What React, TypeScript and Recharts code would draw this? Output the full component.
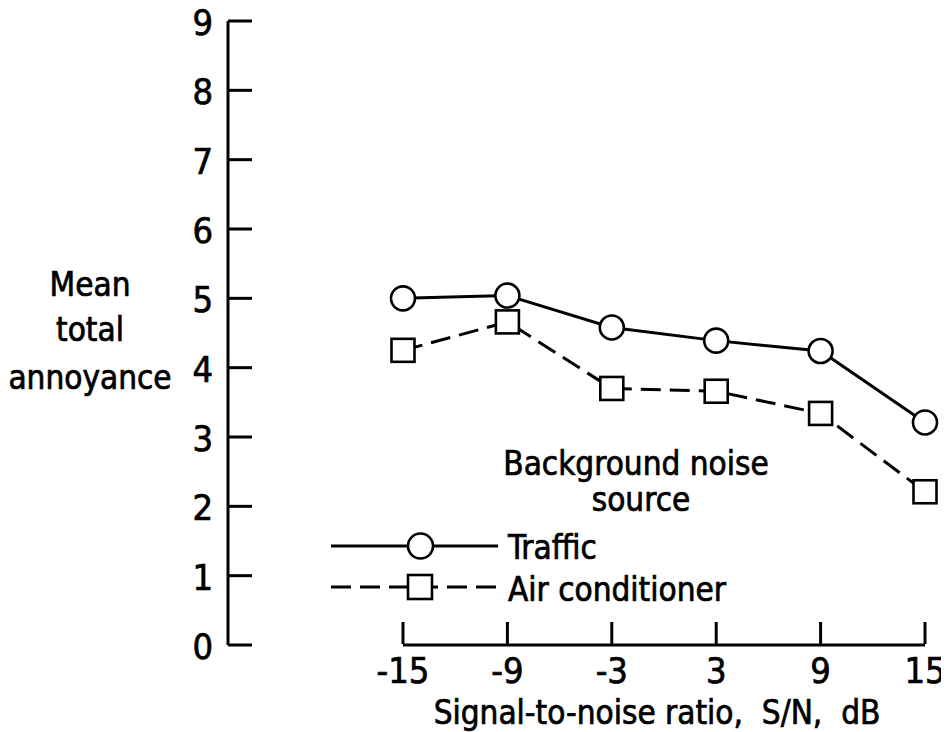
import React from 'react';
import { LineChart, Line, XAxis, YAxis, ReferenceLine, Legend } from 'recharts';

// Signal-to-noise ratio levels (dB)
const snrLevels = [-15, -9, -3, 3, 9, 15];
// Mean total annoyance per background noise source
const trafficAnnoyance = [5.0, 5.04, 4.58, 4.39, 4.24, 3.21];
const airConditionerAnnoyance = [4.25, 4.66, 3.7, 3.66, 3.34, 2.21];
// Axis ticks
const yTicks = [0, 1, 2, 3, 4, 5, 6, 7, 8, 9];
const xTicks = [-15, -9, -3, 3, 9, 15];

const seriesNames = { traffic: 'Traffic', air: 'Air conditioner' };

const data = snrLevels.map((snr, i) => ({
  snr,
  traffic: trafficAnnoyance[i],
  air: airConditionerAnnoyance[i],
}));

const FONT = "'DejaVu Sans Condensed', 'DejaVu Sans', sans-serif";
const INK = '#000';
const DASH = '20 9';

// lettering is drawn slightly heavier than the regular face
const textStyle: React.CSSProperties = {
  fontFamily: FONT,
  fontStretch: 'condensed',
  fill: INK,
  stroke: INK,
  strokeWidth: 0.7,
};

const CircleDot = (props: any) => {
  const { cx, cy, index } = props;
  if (cx == null || cy == null) return null;
  return <circle key={`c-${index}`} cx={cx} cy={cy} r={12} fill="#fff" stroke={INK} strokeWidth={2.6} />;
};

const SquareDot = (props: any) => {
  const { cx, cy, index } = props;
  if (cx == null || cy == null) return null;
  return (
    <rect key={`s-${index}`} x={cx - 11.5} y={cy - 11.5} width={23} height={23} fill="#fff" stroke={INK} strokeWidth={2.6} />
  );
};

const YTick = (props: any) => {
  const { x, y, payload } = props;
  return (
    <g>
      <line x1={x} y1={y} x2={x + 24} y2={y} stroke={INK} strokeWidth={3} />
      <text x={x - 15} y={y + 14} textAnchor="end" fontSize={36} style={textStyle}>
        {payload.value}
      </text>
    </g>
  );
};

const XTick = (props: any) => {
  const { x, y, payload } = props;
  return (
    <g>
      <line x1={x} y1={y - 1} x2={x} y2={y - 23} stroke={INK} strokeWidth={3} />
      <text x={x} y={y + 38} textAnchor="middle" fontSize={36} style={textStyle}>
        {payload.value}
      </text>
    </g>
  );
};

const YTitle = (props: any) => {
  const vb = props.viewBox || { x: 0, y: 13 };
  const cx = vb.x + 82;
  const lines = ['Mean', 'total', 'annoyance'];
  const offsets = [275, 320, 368];
  return (
    <g>
      {lines.map((t, i) => (
        <text key={t} x={cx} y={vb.y + offsets[i]} textAnchor="middle" fontSize={33} style={textStyle}>
          {t}
        </text>
      ))}
    </g>
  );
};

const XTitle = (props: any) => {
  const vb = props.viewBox || { x: 220, y: 637 };
  return (
    <text
      x={vb.x + 429}
      y={vb.y + 79}
      textAnchor="middle"
      fontSize={33}
      style={{ ...textStyle, whiteSpace: 'pre' }}
    >
      {'Signal-to-noise ratio,  S/N,  dB'}
    </text>
  );
};

const LegendBox = () => (
  <svg width={450} height={190} style={{ overflow: 'visible', display: 'block' }}>
    <text x={316} y={45} textAnchor="middle" fontSize={33} style={textStyle}>
      Background noise
    </text>
    <text x={321} y={81} textAnchor="middle" fontSize={33} style={textStyle}>
      source
    </text>
    <line x1={11} y1={116} x2={178} y2={116} stroke={INK} strokeWidth={3} />
    <circle cx={100.5} cy={116} r={12.5} fill="#fff" stroke={INK} strokeWidth={2.6} />
    <text x={188} y={129} fontSize={33} style={textStyle}>
      {seriesNames.traffic}
    </text>
    <line x1={11} y1={157} x2={178} y2={157} stroke={INK} strokeWidth={3} strokeDasharray={DASH} />
    <rect x={88} y={145} width={24} height={24} fill="#fff" stroke={INK} strokeWidth={2.6} />
    <text x={188} y={171} fontSize={33} style={textStyle}>
      {seriesNames.air}
    </text>
  </svg>
);

export default function App() {
  return (
    <div style={{ width: 941, height: 724, background: '#fff' }}>
      <style>{'.recharts-surface{overflow:visible}'}</style>
      <LineChart
        width={941}
        height={724}
        data={data}
        margin={{ top: 13, right: 19, bottom: 0, left: 0 }}
      >
        <XAxis
          dataKey="snr"
          type="number"
          domain={[-15, 15]}
          ticks={xTicks}
          interval={0}
          padding={{ left: 175, right: 5 }}
          axisLine={false}
          tickLine={false}
          tickSize={0}
          tickMargin={0}
          height={87}
          tick={<XTick />}
          label={XTitle}
        />
        <YAxis
          type="number"
          domain={[0, 9]}
          ticks={yTicks}
          interval={0}
          width={220}
          axisLine={{ stroke: INK, strokeWidth: 3 }}
          tickLine={false}
          tickSize={0}
          tickMargin={0}
          tick={<YTick />}
          label={YTitle}
        />
        <ReferenceLine
          segment={[
            { x: -15, y: 0 },
            { x: 15, y: 0 },
          ]}
          stroke={INK}
          strokeWidth={3}
        />
        <Line
          type="linear"
          dataKey="traffic"
          name={seriesNames.traffic}
          stroke={INK}
          strokeWidth={3}
          dot={CircleDot}
          activeDot={false}
          isAnimationActive={false}
        />
        <Line
          type="linear"
          dataKey="air"
          name={seriesNames.air}
          stroke={INK}
          strokeWidth={3}
          strokeDasharray={DASH}
          dot={SquareDot}
          activeDot={false}
          isAnimationActive={false}
        />
        <Legend
          layout="vertical"
          align="center"
          verticalAlign="middle"
          content={LegendBox}
          wrapperStyle={{ position: 'absolute', left: 312, top: 422, width: 450, height: 190 }}
        />
      </LineChart>
    </div>
  );
}
